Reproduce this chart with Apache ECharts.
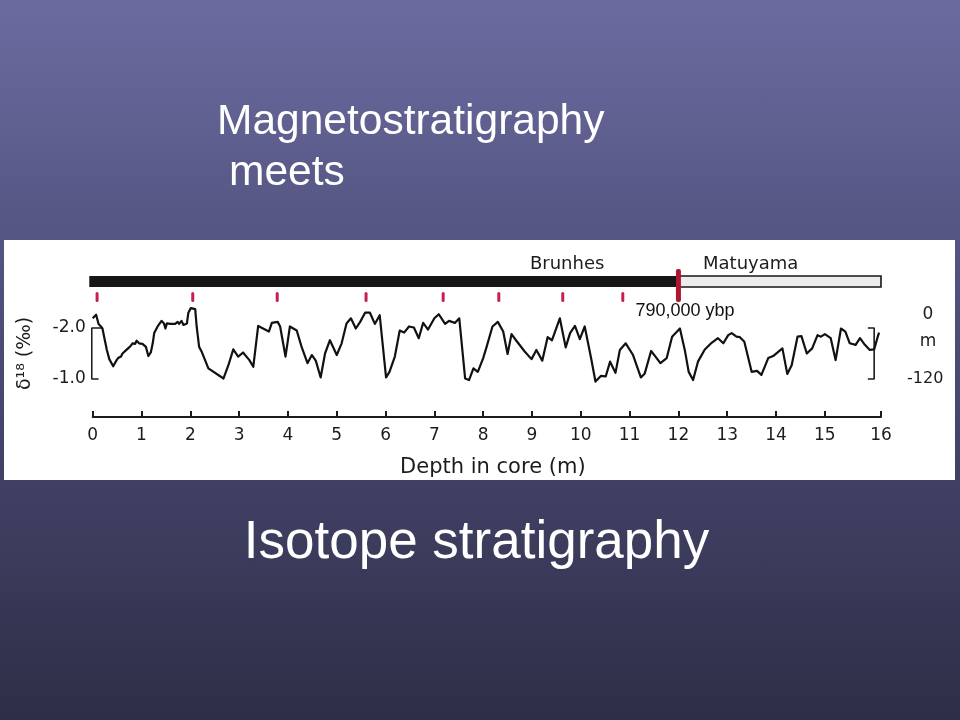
<!DOCTYPE html>
<html>
<head>
<meta charset="utf-8">
<script src="https://cdn.jsdelivr.net/npm/echarts@6.0.0/dist/echarts.min.js"></script>
<style>
  html, body { margin: 0; padding: 0; }
  body { width: 960px; height: 720px; background: linear-gradient(to bottom, #6b6ba0 0%, #4a4a74 50%, #2e2e47 100%); }
  #chart { width: 960px; height: 720px; }
</style>
</head>
<body>
<div id="chart"></div>
<script>
// ---- data ----
const depth = [0.00,0.07,0.10,0.12,0.16,0.20,0.24,0.29,0.34,0.42,0.49,0.52,0.58,0.61,0.65,0.69,0.73,0.76,0.82,0.87,0.90,0.95,1.02,1.09,1.14,1.19,1.23,1.26,1.33,1.41,1.46,1.49,1.52,1.59,1.63,1.69,1.74,1.77,1.82,1.86,1.93,1.96,2.01,2.05,2.10,2.13,2.18,2.23,2.37,2.68,2.78,2.88,2.98,3.08,3.21,
  3.29,3.39,3.49,3.61,3.67,3.79,3.84,3.95,4.04,4.18,4.28,4.40,4.49,4.57,4.67,4.76,4.86,5.00,5.10,5.20,5.29,5.39,5.48,5.58,5.68,5.78,5.88,6.01,6.08,6.19,6.29,6.38,6.48,
  6.58,6.68,6.77,6.87,7.00,7.09,7.22,7.30,7.42,7.51,7.63,7.71,7.80,7.89,8.00,8.07,8.19,8.30,8.41,8.50,8.58,8.68,8.85,8.99,9.09,9.21,9.32,9.41,9.57,9.69,
  9.78,9.88,9.98,10.08,10.21,10.30,10.41,10.51,10.60,10.71,10.80,10.92,11.07,11.23,11.31,11.44,11.53,11.63,11.76,11.87,12.03,12.13,12.21,12.30,12.40,12.54,12.68,12.81,12.92,13.02,
  13.09,13.19,13.26,13.35,13.50,13.61,13.70,13.84,13.94,14.13,14.23,14.32,14.44,14.52,14.63,14.74,14.85,14.92,15.00,15.12,15.22,15.33,15.42,15.51,15.63,15.72,15.82,15.92,16.01,16.08,16.11];
const d18O = [-2.19,-2.26,-2.27,-2.08,-2.04,-1.99,-1.80,-1.57,-1.39,-1.25,-1.37,-1.41,-1.44,-1.50,-1.48,-1.57,-1.54,-1.63,-1.70,-1.69,-1.75,-1.70,-1.69,-1.63,-1.45,-1.52,-1.70,-1.90,-2.03,-2.14,-2.09,-1.99,-2.09,-2.08,-2.10,-2.08,-2.12,-2.08,-2.14,-2.06,-2.09,-2.30,-2.39,-2.42,-2.37,-2.03,-1.63,-1.54,-1.21,-1.01,-1.27,-1.58,-1.44,-1.52,-1.37,
  -1.24,-2.04,-1.99,-1.93,-2.10,-2.12,-2.03,-1.44,-2.03,-1.95,-1.63,-1.31,-1.47,-1.36,-1.03,-1.50,-1.76,-1.47,-1.70,-2.09,-2.19,-1.99,-2.12,-2.30,-2.30,-2.08,-2.25,-1.03,-1.14,-1.44,-1.95,-1.91,-2.03,
  -2.01,-1.80,-2.10,-1.97,-2.19,-2.27,-2.08,-2.14,-2.10,-2.19,-1.01,-0.98,-1.21,-1.14,-1.41,-1.63,-2.03,-2.12,-1.93,-1.49,-1.88,-1.75,-1.54,-1.39,-1.57,-1.36,-1.82,-1.76,-2.19,-1.62,
  -1.90,-2.04,-1.78,-2.03,-1.41,-0.95,-1.06,-1.05,-1.34,-1.12,-1.57,-1.70,-1.47,-1.03,-1.11,-1.55,-1.44,-1.31,-1.41,-1.83,-1.99,-1.57,-1.14,-0.98,-1.34,-1.58,-1.71,-1.80,-1.70,-1.86,
  -1.90,-1.83,-1.82,-1.73,-1.14,-1.16,-1.08,-1.41,-1.45,-1.60,-1.10,-1.27,-1.83,-1.84,-1.50,-1.60,-1.86,-1.83,-1.88,-1.80,-1.37,-1.99,-1.93,-1.70,-1.67,-1.80,-1.67,-1.57,-1.58,-1.82,-1.91];

// axis ticks (the last tick of the drawn scale sits at the end of the axis line)
const depthTickValues = [0,1,2,3,4,5,6,7,8,9,10,11,12,13,14,15,16.15];
const depthTickLabels = ['0','1','2','3','4','5','6','7','8','9','10','11','12','13','14','15','16'];
const d18OTickValues = [-2.0, -1.0];
const d18OTickLabels = ['-2.0', '-1.0'];

// magnetic polarity chrons
const chronNames = ['Brunhes', 'Matuyama'];
const chronStart = [-0.07, 12.0];
const chronEnd = [12.0, 16.15];
const chronLabelDepth = [9.72, 13.48];
const chronNormal = [1, 0];

// sample marks (red) and the reversal boundary
const sampleMarkDepths = [0.09, 2.05, 3.78, 5.60, 7.18, 8.32, 9.63, 10.86];
const boundaryDepth = [12.0];
const boundaryLabel = '790,000 ybp';

// brackets (depth, value)
const leftBracketDepth = [0.19, -0.02, -0.02, 0.12];
const leftBracketValue = [-2.0, -2.0, -1.0, -1.0];
const rightBracketDepth = [15.88, 16.01, 16.01, 15.88];
const rightBracketValue = [-2.0, -2.0, -1.0, -1.0];
const seaBracketDepth = [16.60, 16.68, 16.68, 16.60];
const seaBracketValue = [-2.24, -2.24, -1.0, -1.0];
const seaLevelLabels = ['0', 'm', '-120'];

// ---- chart ----
const FIG_FONT = '"DejaVu Sans", sans-serif';
const SLIDE_FONT = '"Liberation Sans", Arial, sans-serif';
const ink = '#1c1c1c';
const zip = (a, b) => a.map((v, i) => [v, b[i]]);

const chart = echarts.init(document.getElementById('chart'), null, { renderer: 'canvas' });

const chronData = chronNames.map((n, i) => [chronStart[i], chronEnd[i], chronLabelDepth[i], chronNormal[i]]);

const option = {
  animation: false,
  backgroundColor: 'transparent',
  graphic: [
    { type: 'rect', z: -100, silent: true, shape: { x: 4, y: 240, width: 951, height: 240 }, style: { fill: '#ffffff' } },
    { type: 'text', silent: true, style: { text: 'Magnetostratigraphy', x: 217, y: 122, font: '42.5px ' + SLIDE_FONT, fill: '#ffffff', textAlign: 'left', textVerticalAlign: 'middle', align: 'left', verticalAlign: 'middle' } },
    { type: 'text', silent: true, style: { text: 'meets', x: 229, y: 173, font: '42.5px ' + SLIDE_FONT, fill: '#ffffff', textAlign: 'left', textVerticalAlign: 'middle', align: 'left', verticalAlign: 'middle' } },
    { type: 'text', silent: true, style: { text: 'Isotope stratigraphy', x: 476.5, y: 543, font: '53px ' + SLIDE_FONT, fill: '#ffffff', textAlign: 'center', textVerticalAlign: 'middle', align: 'center', verticalAlign: 'middle' } },
    { type: 'text', silent: true, style: { text: seaLevelLabels[0], x: 928, y: 315, font: '17px ' + FIG_FONT, fill: ink, textAlign: 'center', textVerticalAlign: 'middle', align: 'center', verticalAlign: 'middle' } },
    { type: 'text', silent: true, style: { text: seaLevelLabels[1], x: 928, y: 342, font: '17px ' + FIG_FONT, fill: ink, textAlign: 'center', textVerticalAlign: 'middle', align: 'center', verticalAlign: 'middle' } },
    { type: 'text', silent: true, style: { text: seaLevelLabels[2], x: 907, y: 379, font: '16px ' + FIG_FONT, fill: ink, textAlign: 'left', textVerticalAlign: 'middle', align: 'left', verticalAlign: 'middle' } }
  ],
  grid: [
    { left: 92.7, right: 79, top: 302.5, height: 102 },
    { left: 92.7, right: 79, top: 250, height: 60 }
  ],
  xAxis: [
    {
      gridIndex: 0, type: 'value', min: 0, max: 16.15, position: 'bottom', offset: 12.5,
      name: 'Depth in core (m)', nameLocation: 'middle', nameGap: 40,
      nameTextStyle: { fontFamily: FIG_FONT, fontSize: 21, color: ink, padding: [0, 0, 0, 12] },
      axisLine: { show: true, lineStyle: { color: ink, width: 2 } },
      axisTick: { show: true, inside: true, length: 6, lineStyle: { color: ink, width: 2 }, customValues: depthTickValues },
      axisLabel: {
        show: true, margin: 10, fontFamily: FIG_FONT, fontSize: 17, color: ink,
        customValues: depthTickValues,
        formatter: v => { const i = depthTickValues.findIndex(t => Math.abs(t - v) < 1e-6); return i >= 0 ? depthTickLabels[i] : ''; }
      },
      splitLine: { show: false }
    },
    { gridIndex: 1, type: 'value', min: 0, max: 16.15, show: false }
  ],
  yAxis: [
    {
      gridIndex: 0, type: 'value', min: -2.5, max: -0.5, interval: 0.5, inverse: true,
      name: 'δ¹⁸ (‰)', nameLocation: 'middle', nameRotate: 90, nameGap: 58,
      nameTextStyle: { fontFamily: FIG_FONT, fontSize: 19, color: ink },
      axisLine: { show: false }, axisTick: { show: false }, splitLine: { show: false },
      axisLabel: {
        show: true, margin: 7, fontFamily: FIG_FONT, fontSize: 17, color: ink,
        formatter: v => { const i = d18OTickValues.findIndex(t => Math.abs(t - v) < 1e-6); return i >= 0 ? d18OTickLabels[i] : ''; }
      }
    },
    { gridIndex: 1, type: 'value', min: 0, max: 1, show: false }
  ],
  series: [
    {
      name: 'd18O', type: 'line', xAxisIndex: 0, yAxisIndex: 0,
      data: zip(depth, d18O), showSymbol: false, symbol: 'none', smooth: false,
      lineStyle: { color: '#111111', width: 2.2, join: 'round' }, z: 5
    },
    {
      name: 'leftBracket', type: 'line', xAxisIndex: 0, yAxisIndex: 0, clip: false,
      data: zip(leftBracketDepth, leftBracketValue), symbol: 'none',
      lineStyle: { color: ink, width: 1.6 }
    },
    {
      name: 'rightBracket', type: 'line', xAxisIndex: 0, yAxisIndex: 0, clip: false,
      data: zip(rightBracketDepth, rightBracketValue), symbol: 'none',
      lineStyle: { color: ink, width: 1.6 }
    },
    {
      name: 'seaBracket', type: 'line', xAxisIndex: 0, yAxisIndex: 0, clip: false,
      data: zip(seaBracketDepth, seaBracketValue), symbol: 'none',
      lineStyle: { color: ink, width: 1.6 }
    },
    {
      name: 'chrons', type: 'custom', xAxisIndex: 1, yAxisIndex: 1, data: chronData,
      renderItem: (params, api) => {
        const top = params.coordSys.y;
        const s = api.coord([api.value(0), 0])[0];
        const e = api.coord([api.value(1), 0])[0];
        const lx = api.coord([api.value(2), 0])[0];
        const normal = api.value(3) === 1;
        return {
          type: 'group',
          children: [
            { type: 'rect', shape: { x: s, y: top + 26, width: e - s, height: 11 },
              style: normal ? { fill: '#161616' } : { fill: '#ececec', stroke: '#161616', lineWidth: 1.6 } },
            { type: 'text', style: { text: chronNames[params.dataIndex], x: lx, y: top + 14, font: '18px ' + FIG_FONT, fill: ink,
              align: 'center', verticalAlign: 'middle', textAlign: 'center', textVerticalAlign: 'middle' } }
          ]
        };
      }
    },
    {
      name: 'samples', type: 'custom', xAxisIndex: 1, yAxisIndex: 1, data: sampleMarkDepths.map(d => [d, 0]),
      renderItem: (params, api) => {
        const top = params.coordSys.y;
        const x = api.coord([api.value(0), 0])[0];
        return { type: 'rect', shape: { x: x - 1.5, y: top + 42, width: 3, height: 10, r: 1.5 }, style: { fill: '#c81f4e' } };
      }
    },
    {
      name: 'boundary', type: 'custom', xAxisIndex: 1, yAxisIndex: 1, data: boundaryDepth.map(d => [d, 0]), z: 6,
      renderItem: (params, api) => {
        const top = params.coordSys.y;
        const x = api.coord([api.value(0), 0])[0];
        return {
          type: 'group',
          children: [
            { type: 'rect', shape: { x: x - 2.5, y: top + 19, width: 5, height: 33, r: 2 }, style: { fill: '#b0142f' } },
            { type: 'text', style: { text: boundaryLabel, x: x - 43, y: top + 61, font: '18px ' + SLIDE_FONT, fill: '#111',
              align: 'left', verticalAlign: 'middle', textAlign: 'left', textVerticalAlign: 'middle' } }
          ]
        };
      }
    }
  ]
};
chart.setOption(option);
</script>
</body>
</html>
